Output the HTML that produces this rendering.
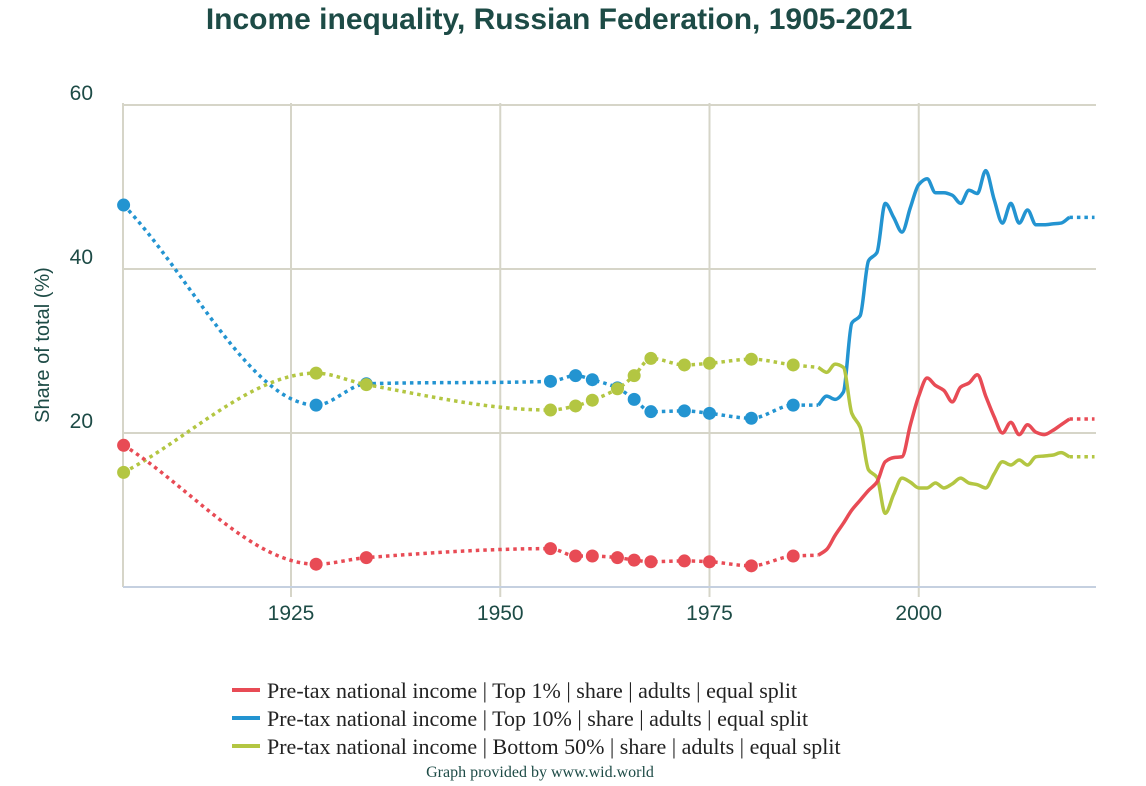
<!DOCTYPE html>
<html><head><meta charset="utf-8">
<style>
body{margin:0;background:#fff;width:1146px;height:786px;overflow:hidden;}
svg{display:block}
</style></head>
<body>
<svg id="chart" width="1146" height="786">
<text x="559" y="29" text-anchor="middle" font-family="Liberation Sans, sans-serif" font-weight="bold" font-size="30" fill="#1d4b46">Income inequality, Russian Federation, 1905-2021</text>
<g id="grid"></g>
<g id="series"></g>
<text transform="translate(49,345) rotate(-90)" text-anchor="middle" font-family="Liberation Sans, sans-serif" font-size="20" fill="#1d4b46">Share of total (%)</text>
<g font-family="Liberation Serif, serif" font-size="22" fill="#222">
<g><rect x="232" y="688" width="28" height="4" fill="#e84b55"/><text x="267" y="698">Pre-tax national income | Top 1% | share | adults | equal split</text></g>
<g><rect x="232" y="716" width="28" height="4" fill="#2394d1"/><text x="267" y="726">Pre-tax national income | Top 10% | share | adults | equal split</text></g>
<g><rect x="232" y="744" width="28" height="4" fill="#b3c642"/><text x="267" y="754">Pre-tax national income | Bottom 50% | share | adults | equal split</text></g>
</g>
<text x="540" y="777" text-anchor="middle" font-family="Liberation Serif, serif" font-size="16" fill="#1d4b46">Graph provided by www.wid.world</text>
</svg>
<script>
const sparseYears=[1905,1928,1934,1956,1959,1961,1964,1966,1968,1972,1975,1980,1985];
const top1Sparse=[18.5,4,4.8,5.9,5,5,4.8,4.5,4.3,4.4,4.3,3.8,5];
const top10Sparse=[47.8,23.4,26,26.3,27,26.5,25.5,24.1,22.6,22.7,22.4,21.8,23.4];
const bottom50Sparse=[15.2,27.3,25.9,22.8,23.3,24,25.4,27,29.1,28.3,28.5,29,28.3];
const annualYears=[1988,1989,1990,1991,1992,1993,1994,1995,1996,1997,1998,1999,2000,2001,2002,2003,2004,2005,2006,2007,2008,2009,2010,2011,2012,2013,2014,2015,2016,2017,2018];
const top1Annual=[5.1,5.8,7.5,9,10.6,11.8,13,14,16.5,17,17.1,21,24.5,26.7,25.8,25.2,23.8,25.6,26.1,27.1,24.5,22,20,21.3,19.8,21,20.1,19.8,20.3,21,21.7];
const top10Annual=[23.4,24.5,24.1,25,33.4,34.3,41,42,48,46.3,44.5,47.5,50.3,51,49.3,49.3,49,48,49.6,49.2,52,48.5,45.6,48,45.6,47.2,45.4,45.4,45.5,45.6,46.3];
const bottom50Annual=[28,27.4,28.4,28,22.4,20.7,15.5,14.6,10.2,12.5,14.5,14,13.3,13.3,13.9,13.3,13.8,14.5,13.9,13.7,13.3,15,16.5,16.1,16.7,16.1,17.1,17.2,17.3,17.6,17.1];
const endYear=2021;
const xTicks=[1925,1950,1975,2000];
const yTicks=[20,40,60];

const NS="http://www.w3.org/2000/svg";
const X=y=>291+(y-1925)*8.37;
const Y=v=>597-v*8.2;
const L=123,R=1096,T=103,B=587;
function mk(tag,attrs,parent){const e=document.createElementNS(NS,tag);for(const k in attrs)e.setAttribute(k,attrs[k]);parent.appendChild(e);return e;}
const grid=document.getElementById('grid');
const g1=mk('line',{x1:L,x2:L,y1:T,y2:B,stroke:'#d6d5c8','stroke-width':2},grid);


yTicks.forEach(v=>{
  const l=mk('line',{x1:L,x2:R,y1:Y(v),y2:Y(v),stroke:'#d6d5c8','stroke-width':2},grid);
  
  
  const t=mk('text',{x:93,y:Y(v)-5,'text-anchor':'end','font-family':'Liberation Sans, sans-serif','font-size':21,fill:'#1d4b46'},grid);
  t.textContent=v;
  
  
});
xTicks.forEach(yr=>{
  const l=mk('line',{x1:X(yr),x2:X(yr),y1:T,y2:B+10,stroke:'#d6d5c8','stroke-width':2},grid);
  
  
  const t=mk('text',{x:X(yr),y:620,'text-anchor':'middle','font-family':'Liberation Sans, sans-serif','font-size':21,fill:'#1d4b46'},grid);
  t.textContent=yr;
  
  
});
const ax=mk('line',{x1:L,x2:R,y1:B,y2:B,stroke:'#c5d0e0','stroke-width':2},grid);



function smooth(pts){
  const n=pts.length;
  const dx=[],m=[];
  for(let i=0;i<n-1;i++){dx.push(pts[i+1][0]-pts[i][0]);m.push((pts[i+1][1]-pts[i][1])/dx[i]);}
  const t=[];
  for(let i=0;i<n;i++){
    if(i===0)t.push(m[0]);
    else if(i===n-1)t.push(m[n-2]);
    else if(m[i-1]*m[i]<=0)t.push(0);
    else{const w1=2*dx[i]+dx[i-1],w2=dx[i]+2*dx[i-1];t.push((w1+w2)/(w1/m[i-1]+w2/m[i]));}
  }
  let d='M'+pts[0][0]+','+pts[0][1];
  for(let i=0;i<n-1;i++){
    const h=dx[i]/3;
    d+=' C'+(pts[i][0]+h)+','+(pts[i][1]+t[i]*h)+' '+(pts[i+1][0]-h)+','+(pts[i+1][1]-t[i+1]*h)+' '+pts[i+1][0]+','+pts[i+1][1];
  }
  return d;
}
const ser=document.getElementById('series');
function drawSeries(name,color,sparse,annual){
  const g=mk('g',{},ser);
  
  
  const sp=sparseYears.map((y,i)=>[X(y),Y(sparse[i])]);
  sp.push([X(annualYears[0]),Y(annual[0])]);
  const p1=mk('path',{d:smooth(sp),fill:'none',stroke:color,'stroke-width':3.5,'stroke-dasharray':'3.5,4'},g);
  
  
  const ap=annualYears.map((y,i)=>[X(y),Y(annual[i])]);
  const p2=mk('path',{d:smooth(ap),fill:'none',stroke:color,'stroke-width':3.5,'stroke-linejoin':'round'},g);
  
  
  const last=annual[annual.length-1];
  const p3=mk('path',{d:'M'+X(annualYears[annualYears.length-1])+','+Y(last)+' L'+X(endYear)+','+Y(last),fill:'none',stroke:color,'stroke-width':3.5,'stroke-dasharray':'3.5,4'},g);
  
  
  sparseYears.forEach((y,i)=>{
    const c=mk('circle',{cx:X(y),cy:Y(sparse[i]),r:6.5,fill:color},g);
    
    
  });
}
drawSeries('top10','#2394d1',top10Sparse,top10Annual);
drawSeries('bottom50','#b3c642',bottom50Sparse,bottom50Annual);
drawSeries('top1','#e84b55',top1Sparse,top1Annual);
</script>
</body></html>
